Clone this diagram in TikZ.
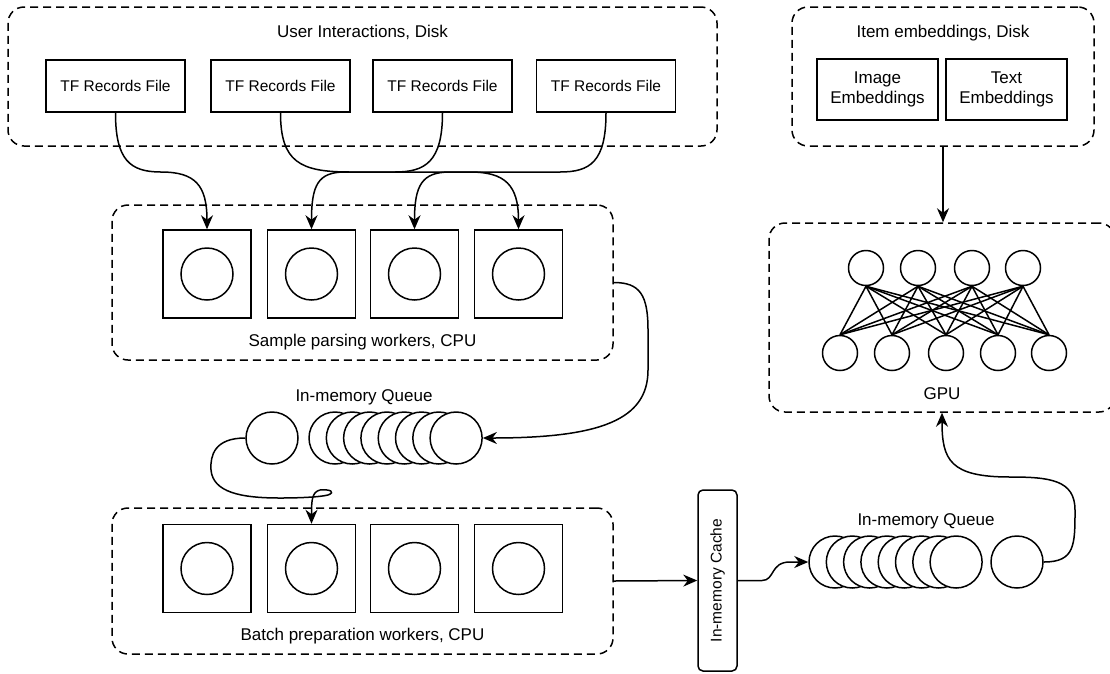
\documentclass[tikz,border=0pt]{standalone}
\usepackage{fontspec}
\setmainfont{Liberation Sans}
\usetikzlibrary{arrows.meta}
\begin{document}
\begin{tikzpicture}[x=1pt,y=-1pt,
  every node/.style={font=\fontsize{17}{20}\selectfont, inner sep=0pt},
  small/.style={font=\fontsize{15.5}{18}\selectfont},
  lw/.style={line width=1.5pt},
  group/.style={draw, lw, dash pattern=on 8pt off 5pt, rounded corners=16pt},
  filebox/.style={draw, lw, small, minimum width=139pt, minimum height=52pt},
  embbox/.style={draw, lw, minimum width=121pt, minimum height=61pt, align=center},
  workerbox/.style={draw, lw, minimum width=88pt, minimum height=88pt},
  ball/.style={draw, lw, circle, minimum size=52pt, fill=white},
  neuron/.style={draw, lw, circle, minimum size=35pt},
  flow/.style={lw, -{Stealth[length=14pt,width=12pt,inset=4.5pt]}},
]
\useasboundingbox (0,0) rectangle (1110,673);

% dashed containers
\node[group, minimum width=709pt, minimum height=139pt] (gui) at (362.5,76.5) {};
\node[group, minimum width=302pt, minimum height=139pt] (gitem) at (943,76.5) {};
\node[group, minimum width=501pt, minimum height=155pt] (gparse) at (362.5,282.5) {};
\node[group, minimum width=346pt, minimum height=189pt] (ggpu) at (942,317.5) {};
\node[group, minimum width=501pt, minimum height=146pt] (gbatch) at (362.5,581) {};

% container titles
\node (tui) at (362.5,32) {User Interactions, Disk};
\node (titem) at (943,33) {Item embeddings, Disk};
\node (tparse) at (362.5,342) {Sample parsing workers, CPU};
\node (tbatch) at (362.5,636) {Batch preparation workers, CPU};
\node (tgpu) at (942,394) {GPU};
\node (tq1) at (364,397) {In-memory Queue};
\node (tq2) at (926,521) {In-memory Queue};

% record files
\node[filebox] (tf1) at (115.5,86) {TF Records File};
\node[filebox] (tf2) at (280.5,86) {TF Records File};
\node[filebox] (tf3) at (442.5,86) {TF Records File};
\node[filebox] (tf4) at (606,86) {TF Records File};

% embedding stores
\node[embbox] (img) at (877.5,89.5) {Image\\Embeddings};
\node[embbox] (txt) at (1006.5,89.5) {Text\\Embeddings};

% worker pools
\foreach \x [count=\i] in {207,311.5,414.5,518.5} {
  \node[workerbox] (pw\i) at (\x,274) {};
  \node[ball] (pc\i) at (\x,274) {};
  \node[workerbox] (bw\i) at (\x,568.5) {};
  \node[ball] (bc\i) at (\x,568.5) {};
}

% queues
\node[ball] (q1s) at (272,438) {};
\foreach \i in {1,...,8} {
  \node[ball] (q1c\i) at ({335+17.3*(\i-1)},438) {};
  \node[ball] (q2c\i) at ({835+17.3*(\i-1)},562) {};
}
\node[ball] (q2s) at (1017,562) {};

% cache
\node[draw, lw, rounded corners=5pt, minimum width=39pt, minimum height=181pt] (cache) at (717.5,580.5) {};
\node[small, rotate=90] (tcache) at (717.5,580.5) {In-memory Cache};

% network on the GPU
\foreach \x [count=\i] in {866,918,972,1023}
  \node[neuron] (nt\i) at (\x,268) {};
\foreach \x [count=\j] in {840,892,946,998,1049}
  \node[neuron] (nb\j) at (\x,353) {};
\foreach \i in {1,...,4}
  \foreach \j in {1,...,5}
    \draw[lw] (nt\i.south) -- (nb\j.north);

% files to parsing workers
\draw[flow] (tf1.south) .. controls (115.5,160) and (130,172) .. (161,172)
  .. controls (195,172) and (207,185) .. (pw1.north);
\draw[flow] (tf2.south) .. controls (280.5,162) and (300,172) .. (350,172) -- (470,172)
  .. controls (505,172) and (518.5,185) .. (pw4.north);
\draw[flow] (tf3.south) .. controls (442.5,162) and (425,172) .. (395,172) -- (345,172)
  .. controls (318,172) and (311.5,185) .. (pw2.north);
\draw[flow] (tf4.south) .. controls (606,162) and (590,172) .. (560,172) -- (450,172)
  .. controls (422,172) and (414.5,185) .. (pw3.north);

% embeddings to GPU
\draw[flow] (gitem.south) -- (gitem.south |- ggpu.north);

% parsing workers to first queue
\draw[flow] (gparse.east) .. controls (640,282.5) and (648,295) .. (648,330) -- (648,370)
  .. controls (648,420) and (600,438) .. (q1c8.east);

% first queue to batch workers
\draw[flow] (q1s.west) .. controls (215,438) and (210,455) .. (211,470)
  .. controls (213,492) and (240,498) .. (280,498)
  .. controls (300,498) and (320,497) .. (328,495)
  .. controls (336,492) and (330,489) .. (320,490)
  .. controls (312,492) and (311.5,500) .. (bw2.north);

% batch workers to cache to second queue
\draw[flow] (gbatch.east) -- (cache.west);
\draw[flow] (cache.east) -- (762,580.5) .. controls (775,580.5) and (770,562) .. (790,562) -- (q2c1.west);

% second queue to GPU
\draw[flow] (q2s.east) .. controls (1075,562) and (1075,545) .. (1075,510)
  .. controls (1075,480) and (1050,477) .. (1010,477)
  .. controls (950,477) and (942,460) .. (ggpu.south);
\end{tikzpicture}
\end{document}
